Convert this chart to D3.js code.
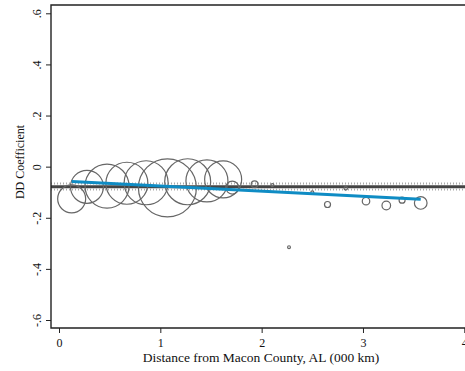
<!DOCTYPE html>
<meta charset="utf-8">
<style>
body { margin: 0; background: #fff; }
.chart text { font-family: "Liberation Serif", "DejaVu Serif", serif; fill: #111; }
</style>
<svg class="chart"></svg>
<script src="https://d3js.org/d3.v7.min.js"></script>
<script>

// binned points: distance (000 km), DD coefficient, weight
var dist   = [0.125, 0.276, 0.474, 0.67, 0.86, 1.07, 1.27, 1.46, 1.62, 1.71,
              1.93, 2.106, 2.27, 2.50, 2.65, 2.83, 3.03, 3.23, 3.386, 3.57];
var coef   = [-0.126, -0.079, -0.076, -0.065, -0.063, -0.083, -0.059, -0.056, -0.05, -0.082,
              -0.069, -0.072, -0.315, -0.101, -0.148, -0.085, -0.135, -0.152, -0.131, -0.142];
var weight = [196, 272, 484, 441, 484, 841, 529, 441, 342, 42,
              11, 2.3, 2, 2.3, 9, 3, 14, 18.5, 9, 40];

var meanLine = -0.079;
var ciBand = [-0.066, -0.089];
var fitX = [0.125, 3.57];
var fitY = [-0.058, -0.128];

var xTicks = [0, 1, 2, 3, 4];
var yTicks = [-0.6, -0.4, -0.2, 0, 0.2, 0.4, 0.6];
var yTickLabels = ["-.6", "-.4", "-.2", "0", ".2", ".4", ".6"];

var width = 465, height = 371;
var pLeft = 51, pRight = 465, pTop = 5, pBottom = 328;

var svg = d3.select(".chart").attr("width", width).attr("height", height);

var x = d3.scaleLinear().domain([0, 4]).range([59, 464.3]);
var y = d3.scaleLinear().domain([-0.6, 0.6]).range([320, 13.3]);
var r = d3.scaleSqrt().domain([0, d3.max(weight)]).range([0, 29]);

// reference line and dotted band
svg.append("line").attr("x1", pLeft).attr("x2", pRight)
  .attr("y1", y(meanLine)).attr("y2", y(meanLine))
  .attr("stroke", "#444").attr("stroke-width", 3);
svg.selectAll(".band").data(ciBand).enter().append("line")
  .attr("x1", pLeft).attr("x2", pRight)
  .attr("y1", function(d){ return y(d); }).attr("y2", function(d){ return y(d); })
  .attr("stroke", "#aaa").attr("stroke-width", 2).attr("stroke-dasharray", "1,2");

// circles
svg.selectAll(".pt").data(dist).enter().append("circle")
  .attr("cx", function(d){ return x(d); })
  .attr("cy", function(d, i){ return y(coef[i]); })
  .attr("r", function(d, i){ return Math.max(1.3, r(weight[i])); })
  .attr("fill", "none").attr("stroke", "#666").attr("stroke-width", 1.2);

// fitted line
svg.append("line")
  .attr("x1", x(fitX[0])).attr("y1", y(fitY[0]))
  .attr("x2", x(fitX[1])).attr("y2", y(fitY[1]))
  .attr("stroke", "#0f8cc4").attr("stroke-width", 3);

// axes
var xAxis = svg.append("g").attr("transform", "translate(0," + pBottom + ")")
  .call(d3.axisBottom(x).tickValues(xTicks).tickSize(5).tickFormat(d3.format("d")));
xAxis.select(".domain").remove();
xAxis.selectAll("text").attr("font-size", 12).attr("dy", null).attr("y", 19)
  .style("font-family", "Liberation Serif").attr("fill", "#111");

var yAxis = svg.append("g").attr("transform", "translate(" + pLeft + ",0)")
  .call(d3.axisLeft(y).tickValues(yTicks).tickSize(5).tickFormat(function(d, i){ return yTickLabels[i]; }));
yAxis.select(".domain").remove();
yAxis.selectAll("text").attr("x", null).attr("dy", null).attr("y", null)
  .attr("transform", "translate(-10,0) rotate(-90)").attr("text-anchor", "middle")
  .attr("font-size", 12).style("font-family", "Liberation Serif").attr("fill", "#111");
svg.selectAll(".tick line").attr("stroke", "#222");

// frame: top, left, bottom
svg.append("path")
  .attr("d", "M" + pRight + "," + pTop + "H" + pLeft + "V" + pBottom + "H" + pRight)
  .attr("fill", "none").attr("stroke", "#222").attr("stroke-width", 1.4);

// titles
svg.append("text").attr("x", 261).attr("y", 362)
  .attr("text-anchor", "middle").attr("font-size", 13.5)
  .text("Distance from Macon County, AL (000 km)");
svg.append("text").attr("transform", "translate(24," + 162 + ") rotate(-90)")
  .attr("text-anchor", "middle").attr("font-size", 12)
  .text("DD Coefficient");
</script>
